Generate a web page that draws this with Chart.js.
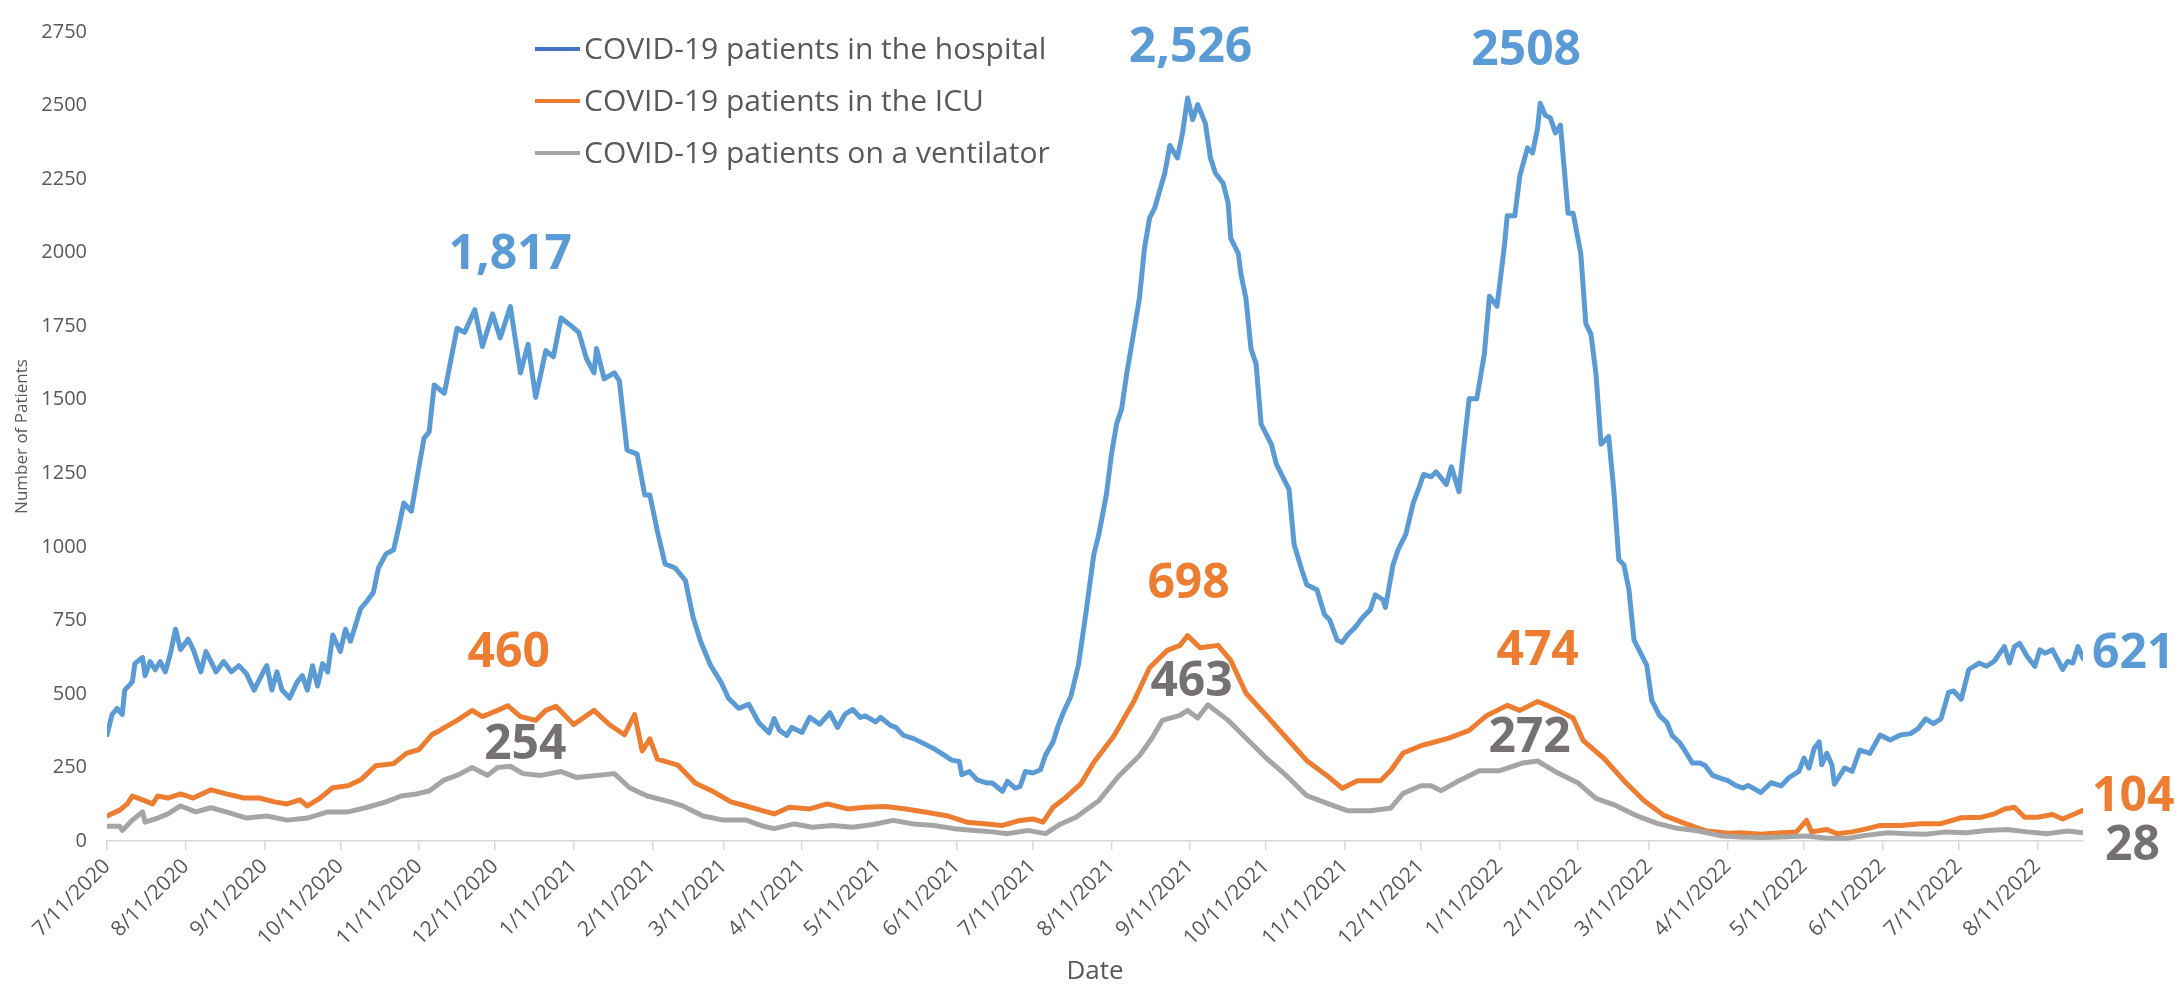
<!DOCTYPE html>
<html>
<head>
<meta charset="utf-8">
<script src="https://cdn.jsdelivr.net/npm/chart.js@4.4.1/dist/chart.umd.min.js"></script>
<style>
  html, body { margin: 0; padding: 0; background: #ffffff; }
  #wrap { width: 2180px; height: 990px; }
</style>
</head>
<body>
<div id="wrap"><canvas id="covid" width="2180" height="990"></canvas></div>
<script>
// x values are days counted from 7/11/2020
const startDate = new Date(2020, 6, 11);
const lastDay = 779;

const tickLabels = ['7/11/2020', '8/11/2020', '9/11/2020', '10/11/2020', '11/11/2020', '12/11/2020',
  '1/11/2021', '2/11/2021', '3/11/2021', '4/11/2021', '5/11/2021', '6/11/2021', '7/11/2021',
  '8/11/2021', '9/11/2021', '10/11/2021', '11/11/2021', '12/11/2021', '1/11/2022', '2/11/2022',
  '3/11/2022', '4/11/2022', '5/11/2022', '6/11/2022', '7/11/2022', '8/11/2022'];

const seriesNames = ['COVID-19 patients in the hospital', 'COVID-19 patients in the ICU', 'COVID-19 patients on a ventilator'];

const hospDays = [0,2,4,6,7,10,11,14,15,17,
  19,21,23,25,27,29,32,34,37,39,
  41,43,46,49,52,55,58,62,63,65,
  67,69,72,75,77,79,81,83,85,87,
  89,92,94,96,98,100,102,105,107,110,
  113,115,117,120,123,125,127,129,133,138,
  141,145,148,152,155,159,163,166,169,173,
  176,179,183,186,189,192,193,196,200,202,
  205,209,212,214,217,220,224,228,231,234,
  238,242,245,249,253,257,261,263,265,268,
  270,274,277,281,285,288,291,294,297,299,
  303,305,309,311,314,318,322,326,330,333,
  336,337,340,343,347,349,353,355,358,360,
  362,365,368,370,373,375,377,380,383,386,
  389,391,394,396,398,400,402,405,407,409,
  411,413,417,419,422,424,426,428,430,433,
  435,437,440,442,443,446,447,449,451,453,
  455,457,459,461,464,466,468,471,473,477,
  480,482,485,487,489,492,495,498,500,503,
  504,507,509,512,515,517,519,522,524,528,
  530,533,535,537,540,543,545,548,551,552,
  555,557,560,562,564,565,567,569,571,573,
  576,578,581,583,585,587,589,592,594,596,
  598,600,602,605,607,609,612,615,617,620,
  622,625,628,630,633,636,639,642,645,647,
  652,656,660,663,667,669,671,673,675,676,
  678,680,681,685,688,691,695,699,703,707,
  711,714,717,720,723,726,728,731,734,738,
  741,744,748,750,752,754,757,760,762,764,
  767,771,773,775,777,779];
const hospVals = [361,430,451,430,513,541,603,624,562,610,
  582,610,575,637,720,651,686,651,575,644,
  610,575,610,575,596,568,513,582,596,513,
  575,513,486,541,562,513,596,527,603,575,
  700,644,720,679,734,790,810,845,928,976,
  990,1066,1149,1121,1273,1370,1391,1550,1522,1743,
  1729,1806,1681,1792,1710,1817,1591,1688,1508,1667,
  1646,1778,1751,1729,1640,1591,1674,1571,1591,1564,
  1329,1315,1176,1176,1052,942,928,886,762,679,
  596,541,485,451,465,402,368,416,377,359,
  386,369,420,397,436,386,431,447,420,425,
  405,420,392,386,359,348,331,314,292,275,
  270,225,236,208,197,197,169,203,180,186,
  236,231,242,292,337,392,436,492,600,780,
  973,1042,1178,1315,1417,1469,1588,1741,1844,2014,
  2117,2151,2270,2364,2322,2407,2526,2452,2503,2440,
  2322,2270,2236,2168,2049,1997,1929,1844,1673,1622,
  1417,1383,1349,1281,1229,1195,1008,922,871,854,
  769,752,683,675,700,726,760,786,837,820,
  794,939,990,1042,1150,1195,1246,1238,1255,1212,
  1272,1187,1349,1503,1503,1656,1852,1818,2031,2125,
  2125,2262,2356,2339,2424,2508,2467,2458,2407,2433,
  2134,2134,1997,1759,1724,1588,1349,1375,1195,956,
  939,854,683,632,598,478,427,402,359,334,
  308,265,265,257,223,214,205,189,180,189,
  165,198,187,215,237,282,248,315,337,259,
  298,259,193,248,237,309,298,360,343,360,
  365,382,415,399,415,505,510,482,583,605,
  594,611,661,605,661,672,627,594,650,638,
  650,583,611,605,661,621];

const icuDays = [0,5,8,10,14,18,20,24,29,34,
  41,47,54,60,66,71,76,79,84,89,
  95,100,106,113,118,123,128,131,138,144,
  148,154,158,163,169,173,177,184,192,198,
  204,208,211,214,217,225,232,239,246,252,
  258,263,269,277,284,292,299,307,315,323,
  331,339,347,353,360,365,369,373,378,384,
  389,397,405,411,418,423,426,431,438,443,
  449,457,465,473,481,487,493,502,506,511,
  518,522,529,537,544,552,557,564,568,572,
  578,582,590,598,606,614,622,630,639,644,
  652,660,666,670,672,678,682,688,694,699,
  707,715,723,731,739,744,748,752,756,761,
  767,771,779];
const icuVals = [85,105,126,153,140,126,153,146,160,146,
  174,160,146,146,133,126,140,119,146,181,
  188,208,256,263,298,311,361,375,410,444,
  423,444,460,423,410,444,458,396,444,396,
  361,430,306,347,278,258,196,168,133,119,
  104,92,115,109,126,109,115,117,109,98,
  86,64,58,53,70,75,64,115,148,195,
  267,358,478,589,648,665,698,657,665,614,
  503,427,350,273,222,179,205,205,239,299,
  324,333,350,376,427,461,444,474,460,444,
  418,341,282,205,137,86,60,35,26,28,
  23,28,31,70,31,39,25,31,42,53,
  53,59,59,79,81,92,109,115,81,81,
  90,75,104];

const ventDays = [0,5,6,10,14,15,20,24,29,35,
  41,47,55,63,71,79,87,95,102,110,
  116,122,127,133,138,144,150,154,159,164,
  171,179,185,193,200,206,213,222,227,235,
  243,252,258,263,271,278,286,294,302,310,
  318,326,334,342,349,355,363,370,376,382,
  391,399,407,412,416,423,426,430,434,442,
  449,457,465,473,481,489,498,506,511,518,
  522,526,533,541,549,558,564,572,580,587,
  595,603,611,619,627,637,644,652,660,670,
  678,686,694,702,710,717,725,733,741,749,
  757,765,773,779];
const ventVals = [50,50,36,71,99,64,78,92,119,99,
  113,99,78,85,71,78,99,99,113,133,
  153,160,170,208,223,250,223,250,254,229,
  223,236,216,223,229,181,153,133,119,85,
  71,71,52,42,58,47,53,47,56,70,
  58,53,42,36,31,25,36,25,58,81,
  137,222,290,350,410,427,444,418,463,410,
  350,282,222,154,128,103,103,111,162,188,
  188,171,205,239,239,265,272,231,197,145,
  120,86,60,43,35,17,14,12,14,17,
  9,9,20,28,25,23,31,28,36,39,
  31,25,34,28];

// value labels: text, series index, anchor day and value
const peakLabels = [
  { text: '1,817', series: 0, day: 159, value: 1817 },
  { text: '2,526', series: 0, day: 426, value: 2526 },
  { text: '2508', series: 0, day: 565, value: 2508 },
  { text: '621', series: 0, day: 779, value: 621 },
  { text: '460', series: 1, day: 158, value: 460 },
  { text: '698', series: 1, day: 426, value: 698 },
  { text: '474', series: 1, day: 564, value: 474 },
  { text: '104', series: 1, day: 779, value: 104 },
  { text: '254', series: 2, day: 159, value: 254 },
  { text: '463', series: 2, day: 426, value: 444 },
  { text: '272', series: 2, day: 564, value: 272 },
  { text: '28', series: 2, day: 779, value: 28 }
];
// pixel offsets of each label from its anchor
const labelOffsets = [
  { dx: 0, dy: -51, align: 'center' },
  { dx: 3, dy: -50, align: 'center' },
  { dx: -14, dy: -52, align: 'center' },
  { dx: 9, dy: -4, align: 'left' },
  { dx: 1, dy: -52, align: 'center' },
  { dx: 1, dy: -51, align: 'center' },
  { dx: 0, dy: -50, align: 'center' },
  { dx: 9, dy: -13, align: 'left' },
  { dx: 15, dy: -21, align: 'center' },
  { dx: 4, dy: -28, align: 'center' },
  { dx: -8, dy: -23, align: 'center' },
  { dx: 22, dy: 14, align: 'left' }
];

const lineColors = ['#5b9bd5', '#ed7d31', '#a5a5a5'];
const legendColors = ['#4472c4', '#ed7d31', '#a5a5a5'];
const labelColors = ['#5b9bd5', '#ed7d31', '#757171'];
const textColor = '#595959';
const fontFamily = '"Open Sans", "Liberation Sans", sans-serif';

function dayOf(label) {
  const p = label.split('/');
  const d = new Date(+p[2], +p[0] - 1, +p[1]);
  return Math.round((d - startDate) / 86400000);
}
const tickDays = tickLabels.map(dayOf);

function toPoints(days, vals) {
  return days.map((d, i) => ({ x: d, y: vals[i] }));
}

// draws the value labels and the legend on top of the lines
const overlay = {
  id: 'overlay',
  afterDatasetsDraw(chart) {
    const ctx = chart.ctx;
    const xs = chart.scales.x;
    const ys = chart.scales.y;
    ctx.save();
    ctx.textBaseline = 'middle';
    ctx.font = 'bold 48px ' + fontFamily;
    peakLabels.forEach((lab, i) => {
      const off = labelOffsets[i];
      ctx.fillStyle = labelColors[lab.series];
      ctx.textAlign = off.align;
      ctx.fillText(lab.text, xs.getPixelForValue(lab.day) + off.dx, ys.getPixelForValue(lab.value) + off.dy);
    });

    // legend
    ctx.font = '30px ' + fontFamily;
    ctx.textAlign = 'left';
    seriesNames.forEach((name, i) => {
      const yy = 49 + i * 52;
      ctx.strokeStyle = legendColors[i];
      ctx.lineWidth = 4;
      ctx.beginPath();
      ctx.moveTo(535, yy);
      ctx.lineTo(580, yy);
      ctx.stroke();
      ctx.fillStyle = textColor;
      ctx.fillText(name, 584, yy + 1);
    });
    ctx.restore();
  }
};

const ctx = document.getElementById('covid').getContext('2d');
const chart = new Chart(ctx, {
  type: 'line',
  data: {
    datasets: [
      { label: seriesNames[0], data: toPoints(hospDays, hospVals), borderColor: lineColors[0], order: 3 },
      { label: seriesNames[1], data: toPoints(icuDays, icuVals), borderColor: lineColors[1], order: 2 },
      { label: seriesNames[2], data: toPoints(ventDays, ventVals), borderColor: lineColors[2], order: 1 }
    ]
  },
  options: {
    responsive: false,
    animation: false,
    parsing: false,
    datasets: {
      line: { borderWidth: 5, pointRadius: 0, tension: 0, borderJoinStyle: 'round', borderCapStyle: 'round', fill: false }
    },
    layout: { padding: { top: 19, right: 97, left: 0, bottom: 0 } },
    plugins: {
      legend: { display: false },
      tooltip: { enabled: false }
    },
    scales: {
      x: {
        type: 'linear',
        min: 0,
        max: lastDay,
        afterBuildTicks: (s) => { s.ticks = tickDays.map(v => ({ value: v })); },
        afterFit: (s) => { s.height = 149; },
        ticks: {
          autoSkip: false,
          minRotation: 45,
          maxRotation: 45,
          padding: 4,
          color: textColor,
          font: { family: fontFamily, size: 21 },
          callback: (v, i) => tickLabels[i]
        },
        grid: { drawOnChartArea: false, drawTicks: true, tickLength: 9, color: '#d9d9d9', lineWidth: 1.5 },
        border: { color: '#d9d9d9', width: 1.5 },
        title: { display: true, text: 'Date', color: textColor, font: { family: fontFamily, size: 26 }, padding: { top: 0, bottom: 3 } }
      },
      y: {
        min: 0,
        max: 2750,
        afterFit: (s) => { s.width = 107; },
        ticks: { stepSize: 250, padding: 20, color: textColor, font: { family: fontFamily, size: 20 }, callback: (v) => String(v) },
        grid: { display: false, drawTicks: false },
        border: { display: false },
        title: { display: true, text: 'Number of Patients', color: textColor, font: { family: fontFamily, size: 17 }, padding: { top: 12, bottom: 0 } }
      }
    }
  },
  plugins: [overlay]
});
</script>
</body>
</html>
